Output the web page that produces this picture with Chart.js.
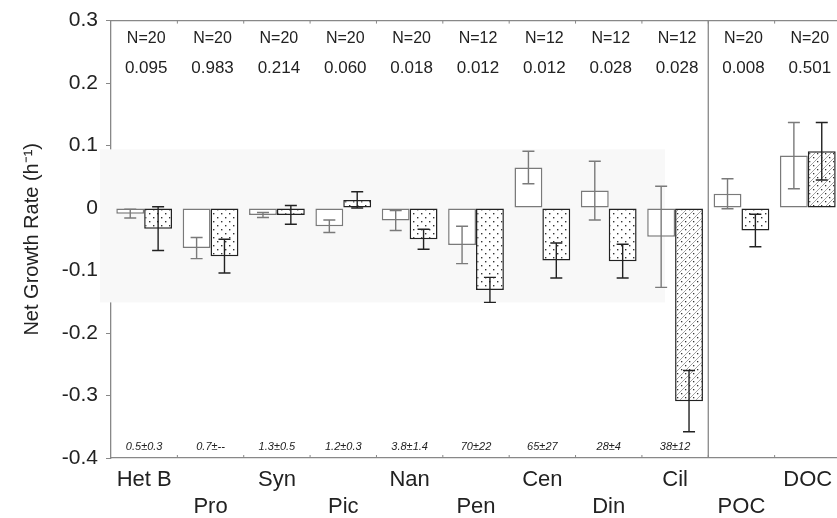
<!DOCTYPE html>
<html>
<head>
<meta charset="utf-8">
<script src="https://cdn.jsdelivr.net/npm/chart.js@4.4.1/dist/chart.umd.min.js"></script>
<style>
  html, body { margin: 0; padding: 0; background: #fff; overflow: hidden; }
  #wrap { position: relative; width: 846px; height: 518px; }
</style>
</head>
<body>
<div id="wrap"><canvas id="c"></canvas></div>
<script>
// ---- data ----
const categories = ["Het B", "Pro", "Syn", "Pic", "Nan", "Pen", "Cen", "Din", "Cil", "POC", "DOC"];
const openValues  = [-0.009, -0.064, -0.011, -0.029, -0.020, -0.059, 0.065, 0.028, -0.046, 0.023, 0.084];
const openErrors  = [0.007, 0.017, 0.004, 0.010, 0.016, 0.030, 0.026, 0.047, 0.081, 0.024, 0.053];
const dotValues   = [-0.033, -0.077, -0.011, 0.013, -0.050, -0.131, -0.084, -0.085, -0.309, -0.036, 0.091];
const dotErrors   = [0.035, 0.027, 0.015, 0.013, 0.016, 0.020, 0.028, 0.027, 0.049, 0.026, 0.046];
const nLabels     = ["N=20", "N=20", "N=20", "N=20", "N=20", "N=12", "N=12", "N=12", "N=12", "N=20", "N=20"];
const pLabels     = ["0.095", "0.983", "0.214", "0.060", "0.018", "0.012", "0.012", "0.028", "0.028", "0.008", "0.501"];
const sizeLabels  = ["0.5±0.3", "0.7±--", "1.3±0.5", "1.2±0.3", "3.8±1.4", "70±22", "65±27", "28±4", "38±12", "", ""];
const hatchedCats = ["Cil", "DOC"];
const yTicks      = [0.3, 0.2, 0.1, 0, -0.1, -0.2, -0.3, -0.4];

// ---- patterns ----
function dotPattern() {
  const c = document.createElement('canvas'); c.width = 8; c.height = 8;
  const g = c.getContext('2d');
  g.fillStyle = '#fff'; g.fillRect(0, 0, 8, 8);
  g.fillStyle = '#333';
  g.fillRect(1, 1, 1.4, 1.4); g.fillRect(5, 5, 1.4, 1.4);
  return g.createPattern(c, 'repeat');
}
function hatchPattern() {
  const c = document.createElement('canvas'); c.width = 8; c.height = 8;
  const g = c.getContext('2d');
  g.fillStyle = '#fff'; g.fillRect(0, 0, 8, 8);
  g.strokeStyle = '#999'; g.lineWidth = 0.9;
  g.beginPath(); g.moveTo(0, 8); g.lineTo(8, 0); g.moveTo(-1, 1); g.lineTo(1, -1); g.moveTo(7, 9); g.lineTo(9, 7); g.stroke();
  g.fillStyle = '#333';
  g.fillRect(1, 1, 1.3, 1.3); g.fillRect(5, 5, 1.3, 1.3);
  return g.createPattern(c, 'repeat');
}
const pDot = dotPattern(), pHatch = hatchPattern();
const dotFills = categories.map(c => hatchedCats.includes(c) ? pHatch : pDot);

const xLabels = categories.map((c, i) => i % 2 === 0 ? c : ['', c]);

const FONT = '"Liberation Sans", Arial, Helvetica, sans-serif';

const decor = {
  id: 'decor',
  beforeDatasetsDraw(chart) {
    const {ctx, chartArea: a, scales: {x, y}} = chart;
    ctx.save();
    // faint grey band from the scan
    const yt = y.getPixelForValue(0.094), yb = y.getPixelForValue(-0.151);
    const xr = x.getPixelForValue(8) - 10;
    ctx.fillStyle = '#f8f8f8';
    ctx.fillRect(a.left - 11, yt, xr - a.left + 11, yb - yt);
    ctx.restore();
  },
  afterDatasetsDraw(chart) {
    const {ctx, chartArea: a, scales: {x, y}} = chart;
    ctx.save();
    // error bars
    const errs = [openErrors, dotErrors];
    const vals = [openValues, dotValues];
    const cols = ['#7a7a7a', '#222'];
    [0, 1].forEach(d => {
      const meta = chart.getDatasetMeta(d);
      meta.data.forEach((bar, i) => {
        const v = vals[d][i], e = errs[d][i];
        const y1 = y.getPixelForValue(v + e), y2 = y.getPixelForValue(v - e);
        const cx = bar.x;
        ctx.strokeStyle = cols[d]; ctx.lineWidth = 1.4;
        ctx.beginPath();
        ctx.moveTo(cx, y1); ctx.lineTo(cx, y2);
        ctx.moveTo(cx - 6, y1); ctx.lineTo(cx + 6, y1);
        ctx.moveTo(cx - 6, y2); ctx.lineTo(cx + 6, y2);
        ctx.stroke();
      });
    });
    // top border line and separator
    ctx.strokeStyle = '#888'; ctx.lineWidth = 1.3;
    ctx.beginPath();
    ctx.moveTo(a.left, a.top); ctx.lineTo(a.right, a.top);
    const sep = (x.getPixelForValue(8) + x.getPixelForValue(9)) / 2;
    ctx.moveTo(sep, a.top); ctx.lineTo(sep, a.bottom);
    ctx.stroke();
    // small boundary marks on top and bottom
    ctx.lineWidth = 1;
    ctx.beginPath();
    for (let i = 0; i < categories.length - 1; i++) {
      const bx = (x.getPixelForValue(i) + x.getPixelForValue(i + 1)) / 2;
      ctx.moveTo(bx, a.top); ctx.lineTo(bx, a.top + 3);
      ctx.moveTo(bx, a.bottom); ctx.lineTo(bx, a.bottom - 3);
    }
    ctx.stroke();
    // text annotations
    ctx.fillStyle = '#222';
    ctx.textAlign = 'center'; ctx.textBaseline = 'middle';
    categories.forEach((c, i) => {
      const cx = x.getPixelForValue(i) + 2;
      ctx.font = '16px ' + FONT;
      ctx.fillText(nLabels[i], cx, y.getPixelForValue(0.271));
      ctx.font = '17px ' + FONT;
      ctx.fillText(pLabels[i], cx, y.getPixelForValue(0.223));
      if (sizeLabels[i]) {
        ctx.font = 'italic 11px ' + FONT;
        ctx.fillText(sizeLabels[i], cx - 2, y.getPixelForValue(-0.383));
      }
    });
    ctx.restore();
  }
};

new Chart(document.getElementById('c'), {
  type: 'bar',
  data: {
    labels: xLabels,
    datasets: [
      { data: openValues, backgroundColor: '#ffffff', borderColor: '#7a7a7a', borderWidth: 1.5, borderSkipped: false,
        barPercentage: 1.0, categoryPercentage: 0.84 },
      { data: dotValues, backgroundColor: dotFills, borderColor: '#222', borderWidth: 1.5, borderSkipped: false,
        barPercentage: 1.0, categoryPercentage: 0.84 }
    ]
  },
  options: {
    responsive: true, maintainAspectRatio: false, animation: false,
    layout: { padding: { top: 20, right: 5, left: 0, bottom: 0 } },
    plugins: { legend: { display: false }, tooltip: { enabled: false } },
    scales: {
      x: {
        offset: true,
        grid: { display: false },
        border: { display: true, color: '#888', width: 1.3 },
        ticks: { color: '#222', font: { family: FONT, size: 22, lineHeight: 1.22 }, padding: 1,
                 maxRotation: 0, minRotation: 0, autoSkip: false },
        afterFit(s) { s.height = 60; }
      },
      y: {
        min: -0.4, max: 0.3,
        afterBuildTicks(s) { s.ticks = yTicks.map(v => ({ value: v })); },
        grid: { drawOnChartArea: false, drawTicks: true, tickLength: 5, color: '#888' },
        border: { display: true, color: '#888', width: 1.3 },
        ticks: { color: '#222', font: { family: FONT, size: 21 }, padding: 8,
                 callback: v => v === 0 ? '0' : Number(v).toFixed(1) },
        title: { display: true, text: 'Net Growth Rate (h⁻¹)', color: '#222',
                 font: { family: FONT, size: 20 }, padding: { top: 20, bottom: 0 } },
        afterFit(s) { s.width = 111; }
      }
    }
  },
  plugins: [decor]
});
</script>
</body>
</html>
